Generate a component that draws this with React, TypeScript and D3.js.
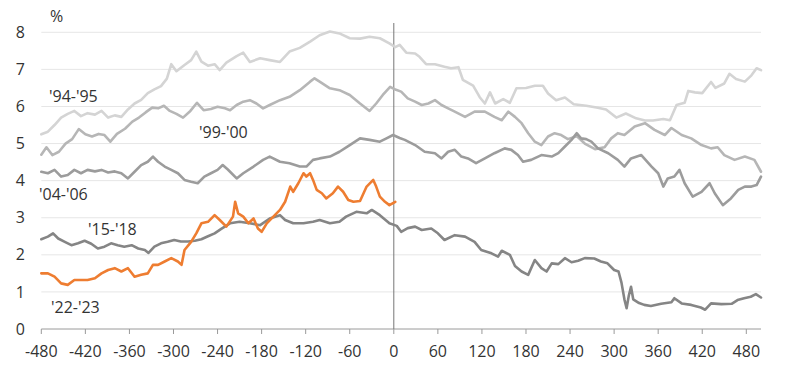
import React from "react";
import * as d3 from "d3";

type Pt = [number, number];

const S94: Pt[] = [[-480,5.25],[-471,5.32],[-462,5.5],[-453,5.7],[-444,5.8],[-435,5.88],[-426,5.74],[-417,5.82],[-407,5.78],[-398,5.88],[-389,5.7],[-380,5.76],[-371,5.72],[-362,5.92],[-353,6.08],[-344,6.18],[-335,6.36],[-326,6.46],[-317,6.55],[-309,6.75],[-303,7.14],[-296,6.95],[-285,7.12],[-276,7.25],[-269,7.48],[-262,7.21],[-253,7.1],[-244,7.14],[-237,6.98],[-228,7.18],[-214,7.36],[-205,7.45],[-196,7.2],[-182,7.3],[-169,7.25],[-155,7.2],[-142,7.48],[-128,7.58],[-114,7.75],[-101,7.92],[-87,8.02],[-74,7.97],[-60,7.84],[-46,7.83],[-33,7.88],[-19,7.84],[-6,7.7],[2,7.6],[8,7.66],[17,7.45],[29,7.43],[35,7.34],[44,7.14],[56,7.14],[69,7.07],[78,7.03],[88,7.06],[94,6.72],[108,6.56],[117,6.25],[124,6.08],[131,6.38],[138,6.08],[149,6.2],[158,6.1],[167,6.49],[180,6.5],[192,6.56],[203,6.56],[210,6.35],[221,6.17],[233,6.24],[245,6.06],[262,6.02],[276,5.97],[289,5.92],[303,5.7],[316,5.81],[330,5.68],[342,5.62],[353,5.62],[367,5.66],[376,5.63],[385,6.04],[396,6.1],[401,6.42],[410,6.38],[420,6.36],[432,6.66],[438,6.5],[450,6.62],[457,6.88],[466,6.74],[478,6.67],[487,6.84],[494,7.03],[500,6.98]];

const S99: Pt[] = [[-480,4.7],[-473,4.9],[-465,4.69],[-456,4.78],[-447,5.0],[-438,5.12],[-429,5.39],[-420,5.25],[-411,5.19],[-402,5.26],[-394,5.23],[-386,5.05],[-377,5.26],[-366,5.4],[-356,5.59],[-347,5.7],[-338,5.84],[-329,5.97],[-321,5.95],[-313,6.02],[-305,5.88],[-296,5.8],[-287,5.7],[-277,5.88],[-268,6.1],[-259,5.9],[-249,5.93],[-240,5.99],[-230,5.95],[-223,5.9],[-214,6.04],[-205,6.13],[-196,6.17],[-187,6.08],[-178,5.95],[-169,6.04],[-155,6.17],[-142,6.26],[-128,6.44],[-114,6.67],[-108,6.76],[-101,6.67],[-87,6.49],[-74,6.44],[-60,6.31],[-46,6.08],[-33,5.88],[-24,6.08],[-15,6.31],[-5,6.53],[3,6.45],[10,6.4],[19,6.22],[29,6.13],[38,6.04],[47,6.08],[56,6.17],[65,6.04],[74,5.95],[83,5.86],[97,5.72],[110,5.86],[124,5.86],[137,5.72],[147,5.63],[156,5.86],[165,5.72],[174,5.55],[183,5.28],[192,5.05],[201,4.96],[210,5.19],[219,5.28],[228,5.23],[237,5.12],[249,5.2],[260,5.0],[274,4.85],[287,4.9],[296,5.14],[305,5.28],[314,5.23],[328,5.46],[342,5.55],[355,5.37],[369,5.23],[378,5.42],[392,5.23],[405,5.14],[419,4.96],[432,4.87],[441,4.9],[450,4.69],[464,4.56],[478,4.65],[491,4.56],[500,4.24]];

const S04: Pt[] = [[-480,4.24],[-471,4.2],[-462,4.29],[-453,4.11],[-444,4.15],[-435,4.29],[-426,4.2],[-417,4.29],[-407,4.25],[-398,4.29],[-389,4.22],[-380,4.25],[-371,4.2],[-362,4.06],[-353,4.24],[-344,4.42],[-335,4.51],[-328,4.65],[-321,4.51],[-312,4.38],[-303,4.29],[-294,4.2],[-285,4.02],[-276,3.97],[-267,3.93],[-258,4.11],[-249,4.2],[-240,4.29],[-233,4.42],[-226,4.3],[-214,4.06],[-205,4.2],[-191,4.38],[-178,4.56],[-169,4.65],[-155,4.51],[-142,4.47],[-128,4.38],[-119,4.38],[-110,4.56],[-101,4.6],[-87,4.65],[-74,4.78],[-60,4.96],[-46,5.14],[-33,5.1],[-19,5.05],[-10,5.14],[-1,5.23],[8,5.15],[15,5.1],[29,4.96],[42,4.78],[56,4.74],[65,4.6],[74,4.78],[83,4.83],[92,4.65],[101,4.6],[112,4.47],[124,4.6],[137,4.74],[151,4.87],[160,4.83],[169,4.69],[176,4.51],[187,4.56],[201,4.69],[215,4.65],[224,4.74],[233,4.92],[242,5.1],[249,5.28],[255,5.14],[262,5.12],[269,5.05],[278,4.87],[292,4.74],[305,4.56],[314,4.38],[323,4.6],[337,4.69],[351,4.38],[360,4.2],[367,3.84],[373,4.06],[382,4.11],[389,4.29],[396,3.93],[407,3.57],[419,3.7],[430,3.93],[437,3.66],[448,3.34],[459,3.52],[469,3.75],[478,3.84],[487,3.84],[494,3.88],[500,4.11]];

const S15: Pt[] = [[-480,2.42],[-471,2.49],[-464,2.58],[-457,2.44],[-448,2.35],[-439,2.26],[-430,2.31],[-421,2.38],[-412,2.3],[-403,2.17],[-394,2.22],[-385,2.31],[-376,2.26],[-367,2.22],[-357,2.26],[-348,2.17],[-339,2.13],[-334,2.05],[-326,2.22],[-317,2.31],[-308,2.35],[-299,2.4],[-290,2.36],[-280,2.36],[-271,2.38],[-262,2.42],[-253,2.5],[-244,2.58],[-235,2.7],[-223,2.85],[-210,2.89],[-196,2.85],[-182,2.8],[-169,2.98],[-155,3.07],[-148,2.94],[-137,2.85],[-123,2.85],[-110,2.89],[-101,2.94],[-87,2.85],[-74,2.89],[-65,3.03],[-51,3.16],[-37,3.12],[-30,3.21],[-19,3.07],[-6,2.85],[4,2.78],[10,2.62],[19,2.72],[29,2.76],[38,2.67],[51,2.71],[60,2.58],[69,2.4],[83,2.53],[97,2.49],[110,2.35],[119,2.13],[133,2.04],[142,1.95],[147,2.11],[158,2.0],[165,1.7],[174,1.55],[183,1.46],[192,1.86],[201,1.64],[208,1.55],[215,1.77],[224,1.75],[233,1.91],[242,1.8],[251,1.84],[260,1.91],[273,1.9],[282,1.82],[291,1.77],[300,1.59],[306,1.55],[310,1.25],[314,0.8],[317,0.56],[320,0.9],[323,1.14],[326,0.8],[334,0.7],[341,0.65],[350,0.62],[364,0.68],[378,0.72],[382,0.83],[392,0.69],[405,0.65],[418,0.58],[424,0.52],[432,0.69],[446,0.67],[460,0.68],[468,0.78],[477,0.83],[486,0.87],[493,0.94],[500,0.85]];

const S22: Pt[] = [[-480,1.5],[-471,1.5],[-462,1.41],[-453,1.23],[-444,1.19],[-435,1.32],[-426,1.32],[-417,1.32],[-407,1.37],[-398,1.5],[-389,1.59],[-380,1.64],[-371,1.55],[-362,1.64],[-353,1.41],[-344,1.46],[-335,1.5],[-328,1.73],[-321,1.73],[-312,1.82],[-303,1.91],[-294,1.82],[-289,1.73],[-285,2.13],[-276,2.35],[-269,2.58],[-262,2.85],[-253,2.89],[-244,3.07],[-237,2.94],[-228,2.76],[-219,3.03],[-216,3.43],[-212,3.12],[-205,3.03],[-198,2.85],[-191,2.98],[-185,2.71],[-180,2.62],[-173,2.85],[-164,3.03],[-155,3.21],[-148,3.43],[-141,3.84],[-137,3.7],[-130,3.93],[-123,4.2],[-119,4.11],[-114,4.2],[-110,4.02],[-105,3.75],[-98,3.66],[-92,3.52],[-83,3.66],[-76,3.84],[-69,3.7],[-62,3.48],[-55,3.43],[-46,3.45],[-37,3.84],[-28,4.02],[-24,3.84],[-19,3.57],[-12,3.43],[-6,3.34],[2,3.43]];

const seriesNames = ["'94-'95", "'99-'00", "'04-'06", "'15-'18", "'22-'23"];
const seriesData = [S94, S99, S04, S15, S22];
const seriesColors = ["#d4d4d4", "#b6b6b6", "#9c9c9c", "#858585", "#ee7d31"];
const labelPos: Pt[] = [[49, 102], [199, 138], [39, 200], [88, 235], [51, 313]];

const xTicks = d3.range(-480, 481, 60);
const yTicks = d3.range(0, 9, 1);

const FONT = "'Open Sans', sans-serif";

export default function App() {
  const x = d3.scaleLinear().domain([-480, 500]).range([41.3, 761]);
  const y = d3.scaleLinear().domain([0, 8]).range([329, 32.3]);
  const line = d3
    .line<Pt>()
    .x((d) => x(d[0]))
    .y((d) => y(d[1]));

  return (
    <svg
      width={800}
      height={377}
      style={{ position: "absolute", left: 0, top: 0, background: "#fff" }}
      fontFamily={FONT}
    >
      {yTicks
        .filter((t) => t > 0)
        .map((t) => (
          <line key={"g" + t} x1={x(-480)} x2={x(500)} y1={y(t)} y2={y(t)} stroke="#e6e6e6" strokeWidth={1} />
        ))}
      {yTicks.map((t) => (
        <text key={"yt" + t} x={25} y={y(t)} dy="0.35em" textAnchor="end" fontSize={16} fill="#333">
          {t}
        </text>
      ))}
      <text x={50} y={22} fontSize={16} fill="#333">%</text>
      <line x1={x(-480)} x2={x(500)} y1={y(0)} y2={y(0)} stroke="#9a9a9a" strokeWidth={1} />
      {xTicks.map((t) => (
        <g key={"xt" + t}>
          <line x1={x(t)} x2={x(t)} y1={y(0)} y2={y(0) + 5} stroke="#9a9a9a" strokeWidth={1} />
          <text x={x(t)} y={357} textAnchor="middle" fontSize={16} fill="#333">
            {t}
          </text>
        </g>
      ))}
      <line x1={x(0)} x2={x(0)} y1={23} y2={y(0)} stroke="#777" strokeWidth={1} />
      {seriesData.map((s, i) => (
        <path
          key={"s" + i}
          d={line(s) || ""}
          fill="none"
          stroke={seriesColors[i]}
          strokeWidth={2.6}
          strokeLinejoin="round"
          strokeLinecap="round"
        />
      ))}
      {seriesNames.map((n, i) => (
        <text key={"l" + i} x={labelPos[i][0]} y={labelPos[i][1]} fontSize={16} fill="#333">
          {n}
        </text>
      ))}
    </svg>
  );
}
